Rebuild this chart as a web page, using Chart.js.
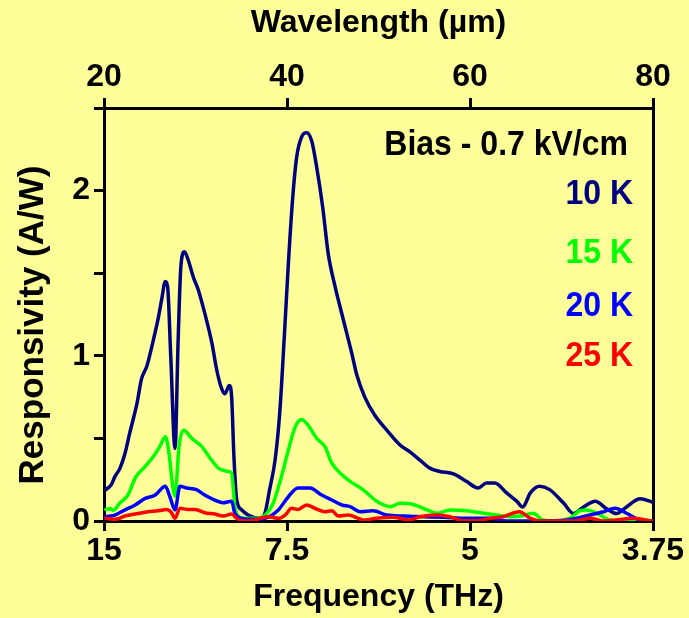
<!DOCTYPE html>
<html>
<head>
<meta charset="utf-8">
<script src="https://cdn.jsdelivr.net/npm/chart.js@4.4.1/dist/chart.umd.min.js"></script>
<style>
  html, body { margin: 0; padding: 0; background: #FFFF99; }
  #wrap { width: 689px; height: 618px; }
</style>
</head>
<body>
<div id="wrap"><canvas id="c" width="689" height="618"></canvas></div>
<script>
// ---- Data (x = wavelength in µm, y = responsivity in A/W) ----
const wl10 = [20.2, 20.8, 21.2, 21.75, 22.3, 22.8, 23.6, 24.1, 24.7, 25.2, 25.9, 26.3, 26.7, 26.95, 27.3, 27.76, 28.1, 28.4, 28.8, 29.2, 29.8, 30.3, 31.0, 31.8, 32.3, 32.8, 33.2, 33.7, 33.95, 34.2, 34.5, 35.0, 35.8, 37.05, 37.6, 38.1, 38.7, 39.2, 39.7, 40.15, 40.6, 41.05, 41.6, 42.15, 42.7, 43.25, 43.9, 44.5, 45.25, 46.15, 47.1, 47.6, 48.5, 49.6, 50.9, 52.35, 53.4, 54.5, 55.6, 56.7, 58.2, 59.6, 60.9, 61.8, 62.7, 64.0, 65.1, 65.75, 66.6, 67.6, 68.7, 70.2, 71.3, 72.4, 73.7, 74.9, 76.0, 77.1, 78.6, 79.9];
const r10  = [0.19, 0.22, 0.27, 0.32, 0.41, 0.53, 0.71, 0.86, 0.94, 1.05, 1.22, 1.34, 1.45, 1.42, 0.99, 0.44, 1.09, 1.54, 1.63, 1.58, 1.47, 1.40, 1.26, 1.075, 0.92, 0.81, 0.77, 0.82, 0.75, 0.39, 0.13, 0.07, 0.035, 0.016, 0.05, 0.19, 0.37, 0.65, 1.11, 1.56, 1.94, 2.20, 2.325, 2.35, 2.30, 2.14, 1.90, 1.62, 1.42, 1.22, 1.01, 0.89, 0.75, 0.64, 0.55, 0.46, 0.42, 0.37, 0.32, 0.30, 0.285, 0.24, 0.20, 0.23, 0.23, 0.17, 0.12, 0.085, 0.17, 0.21, 0.19, 0.11, 0.045, 0.085, 0.12, 0.075, 0.045, 0.085, 0.135, 0.115];

const wl15 = [20.2, 20.7, 21.0, 21.75, 22.65, 23.4, 24.5, 25.4, 26.1, 26.7, 27.0, 27.76, 28.2, 28.7, 29.6, 30.7, 31.6, 32.5, 33.6, 33.95, 34.3, 34.7, 35.4, 36.5, 37.6, 38.5, 39.4, 40.15, 40.9, 41.6, 42.3, 43.25, 44.15, 44.9, 46.0, 46.9, 48.3, 49.8, 51.3, 52.35, 53.8, 55.3, 56.4, 57.8, 59.6, 61.45, 62.9, 64.4, 65.5, 66.9, 68.0, 69.5, 70.9, 72.0, 72.75, 73.85, 75.3, 77.0, 79.9];
const r15  = [0.07, 0.075, 0.065, 0.11, 0.16, 0.26, 0.33, 0.39, 0.45, 0.51, 0.45, 0.15, 0.45, 0.55, 0.50, 0.45, 0.38, 0.32, 0.30, 0.29, 0.087, 0.026, 0.016, 0.016, 0.036, 0.11, 0.27, 0.43, 0.57, 0.615, 0.58, 0.50, 0.45, 0.35, 0.28, 0.24, 0.19, 0.12, 0.087, 0.107, 0.10, 0.067, 0.047, 0.067, 0.062, 0.047, 0.036, 0.026, 0.03, 0.047, 0.006, 0.0, 0.016, 0.062, 0.067, 0.047, 0.006, 0.0, 0.0];

const wl20 = [20.2, 21.2, 22.3, 23.4, 24.5, 25.6, 26.7, 27.2, 27.76, 28.3, 29.0, 30.1, 31.0, 32.1, 33.0, 33.95, 34.3, 35.05, 36.5, 37.6, 39.05, 40.15, 41.2, 42.5, 43.8, 44.9, 46.0, 46.9, 48.0, 49.4, 50.9, 52.7, 54.9, 57.1, 59.6, 62.2, 64.0, 66.9, 70.6, 73.1, 74.6, 75.85, 77.1, 78.6, 79.9];
const r20  = [0.026, 0.036, 0.067, 0.097, 0.137, 0.157, 0.21, 0.147, 0.067, 0.21, 0.20, 0.19, 0.157, 0.127, 0.11, 0.12, 0.047, 0.016, 0.01, 0.016, 0.067, 0.147, 0.20, 0.20, 0.157, 0.127, 0.097, 0.087, 0.056, 0.062, 0.036, 0.03, 0.026, 0.022, 0.016, 0.016, 0.0, 0.0, 0.006, 0.036, 0.056, 0.077, 0.047, 0.006, 0.0];

const wl25 = [20.2, 21.2, 22.3, 23.4, 24.8, 25.9, 26.85, 27.3, 27.76, 28.3, 29.2, 29.95, 31.0, 32.1, 33.0, 33.95, 34.5, 35.2, 36.5, 37.05, 37.96, 39.05, 39.8, 40.5, 41.2, 42.15, 43.05, 44.15, 44.9, 45.6, 46.7, 47.6, 48.3, 49.8, 51.6, 53.4, 54.5, 56.5, 57.8, 59.3, 60.7, 62.2, 63.6, 65.4, 66.6, 67.9, 69.5, 71.7, 73.1, 74.6, 76.0, 77.85, 79.9];
const r25  = [0.016, 0.01, 0.03, 0.042, 0.056, 0.062, 0.07, 0.056, 0.016, 0.077, 0.07, 0.07, 0.05, 0.042, 0.03, 0.042, 0.016, 0.0, 0.006, 0.016, 0.026, 0.016, 0.036, 0.077, 0.07, 0.097, 0.077, 0.056, 0.062, 0.03, 0.036, 0.02, 0.006, 0.016, 0.022, 0.006, 0.026, 0.036, 0.026, 0.002, 0.002, 0.016, 0.026, 0.056, 0.016, 0.0, 0.0, 0.002, 0.016, 0.0, 0.006, 0.016, 0.0];

const seriesLabels = ['10 K', '15 K', '20 K', '25 K'];
const wavelengthTicks = [20, 40, 60, 80];
const frequencyTicks = ['15', '7.5', '5', '3.75'];
const noteTitle = 'Bias - 0.7 kV/cm';
const yTitle = 'Responsivity (A/W)';

// ---- Styles ----
const BG = '#FFFF99';
const COLORS = ['#000080', '#00FF00', '#0000FF', '#FF0000'];
const FONT = 'Liberation Sans, Arial, Helvetica, sans-serif';

function pts(xs, ys) { return xs.map((x, i) => ({ x: x, y: ys[i] })); }

const bgPlugin = {
  id: 'bg',
  beforeDraw(chart) {
    const c = chart.ctx;
    c.save();
    c.fillStyle = BG;
    c.fillRect(0, 0, chart.width, chart.height);
    c.restore();
  }
};

function stretchedText(c, text, x, y, sy) {
  c.save();
  c.translate(x, y);
  c.scale(1, sy);
  c.fillText(text, 0, 0);
  c.restore();
}

const notesPlugin = {
  id: 'notes',
  afterDraw(chart) {
    const c = chart.ctx;
    const a = chart.chartArea;
    c.save();
    c.font = 'bold 32px ' + FONT;
    c.textAlign = 'right';
    c.textBaseline = 'middle';
    c.fillStyle = '#000000';
    stretchedText(c, noteTitle, a.right - 25, 145, 1.08);
    const ys = [194, 253, 306, 356];
    seriesLabels.forEach((t, i) => {
      c.fillStyle = COLORS[i];
      stretchedText(c, t, a.right - 20, ys[i], 1.08);
    });
    // y axis title
    c.fillStyle = '#000000';
    c.font = 'bold 35px ' + FONT;
    c.textAlign = 'center';
    c.translate(33, 325);
    c.rotate(-Math.PI / 2);
    c.fillText(yTitle, 0, 0);
    c.restore();
  }
};

Chart.defaults.font.family = FONT;
Chart.defaults.font.weight = 'bold';
Chart.defaults.color = '#000000';

const datasets = [
  { label: seriesLabels[0], data: pts(wl10, r10), borderColor: COLORS[0], order: 3 },
  { label: seriesLabels[1], data: pts(wl15, r15), borderColor: COLORS[1], order: 2 },
  { label: seriesLabels[2], data: pts(wl20, r20), borderColor: COLORS[2], order: 1 },
  { label: seriesLabels[3], data: pts(wl25, r25), borderColor: COLORS[3], order: 0 }
].map(d => Object.assign(d, {
  borderWidth: 3.5,
  pointRadius: 0,
  fill: false,
  tension: 0.4,
  cubicInterpolationMode: 'monotone',
  borderJoinStyle: 'round',
  borderCapStyle: 'round'
}));

const axisGrid = { display: true, drawOnChartArea: false, drawTicks: true, tickLength: 10, color: '#000000', lineWidth: 3 };
const axisBorder = { display: true, color: '#000000', width: 3 };

new Chart(document.getElementById('c'), {
  type: 'line',
  data: { datasets: datasets },
  plugins: [bgPlugin, notesPlugin],
  options: {
    responsive: false,
    animation: false,
    devicePixelRatio: 1,
    layout: { padding: 0 },
    plugins: { legend: { display: false }, tooltip: { enabled: false } },
    scales: {
      x: {
        type: 'linear', position: 'bottom', min: 20, max: 80,
        afterBuildTicks(s) { s.ticks = wavelengthTicks.map(v => ({ value: v })); },
        ticks: {
          font: { size: 32, weight: 'bold' }, padding: 1, maxRotation: 0, autoSkip: false,
          callback: (v) => frequencyTicks[wavelengthTicks.indexOf(v)]
        },
        grid: axisGrid, border: axisBorder,
        title: { display: true, text: 'Frequency (THz)', font: { size: 32, weight: 'bold' }, padding: { top: 0, bottom: 2 } },
        afterFit(s) { s.height = 97; }
      },
      x2: {
        type: 'linear', position: 'top', min: 20, max: 80,
        afterBuildTicks(s) { s.ticks = wavelengthTicks.map(v => ({ value: v })); },
        ticks: { font: { size: 32, weight: 'bold' }, padding: 2, maxRotation: 0, autoSkip: false },
        grid: axisGrid, border: axisBorder,
        title: { display: true, text: 'Wavelength (\u00B5m)', font: { size: 32, weight: 'bold' }, padding: { top: 4, bottom: 0 } },
        afterFit(s) { s.height = 108; }
      },
      y: {
        type: 'linear', position: 'left', min: 0, max: 2.5,
        ticks: {
          stepSize: 0.5, font: { size: 32, weight: 'bold' }, padding: 4, autoSkip: false,
          callback: (v) => Number.isInteger(v) ? String(v) : ''
        },
        grid: axisGrid, border: axisBorder,
        title: { display: false },
        afterFit(s) { s.width = 104; }
      },
      y2: {
        type: 'linear', position: 'right', min: 0, max: 2.5,
        ticks: { display: false },
        grid: { display: false, drawTicks: false },
        border: axisBorder,
        afterFit(s) { s.width = 36; }
      }
    }
  }
});
</script>
</body>
</html>
